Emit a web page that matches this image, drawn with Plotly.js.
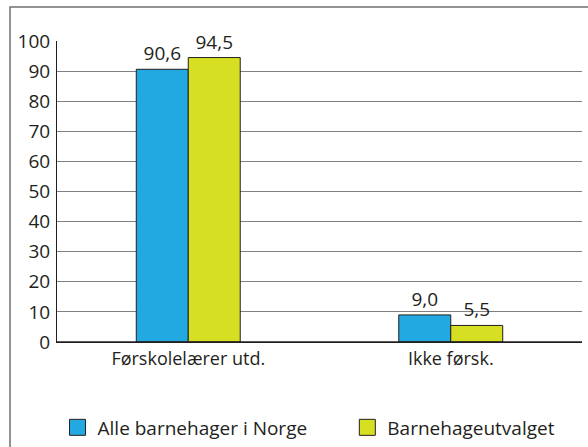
<!DOCTYPE html>
<html>
<head>
<meta charset="utf-8">
<script src="https://cdn.plot.ly/plotly-3.0.1.min.js"></script>
<style>html,body{margin:0;padding:0;background:#fff;}#chart{width:588px;height:447px;}</style>
</head>
<body>
<div id="chart"></div>
<script>
const categories = ["Førskolelærer utd.", "Ikke førsk."];
const seriesNames = ["Alle barnehager i Norge", "Barnehageutvalget"];
const seriesColors = ["#23a9e1", "#d7df23"];
const allNorway = [90.6, 9.0];
const sample = [94.5, 5.5];
const yTicks = [0, 10, 20, 30, 40, 50, 60, 70, 80, 90, 100];

const fam = "Open Sans, Noto Sans, sans-serif";
const ink = "#231f20";
const tickFont = {family: fam, size: 19, color: ink};
const catFont = {family: fam, size: 18, color: ink};
const labelFont = {family: fam, size: 19, color: ink};
const legendFont = {family: fam, size: 19, color: ink};

const seriesValues = [allNorway, sample];
const traces = [];
seriesValues.forEach((vals, i) => {
  traces.push({type: "bar", name: seriesNames[i], x: categories, y: vals,
    marker: {color: seriesColors[i], line: {color: ink, width: 1}},
    texttemplate: "%{y:.1f}", textposition: "outside", cliponaxis: false,
    textfont: labelFont, showlegend: false});
});
// legend-only entries (square swatches)
seriesNames.forEach((n, i) => {
  traces.push({type: "scatter", mode: "markers", name: n, x: [null], y: [null],
    marker: {symbol: "square", size: 16, color: seriesColors[i], line: {color: ink, width: 1}},
    showlegend: true, legend: i === 0 ? "legend" : "legend2", hoverinfo: "skip"});
});

const legendBase = {orientation: "h", yanchor: "middle", y: -0.284, xanchor: "left",
  font: legendFont, itemsizing: "trace", bgcolor: "rgba(0,0,0,0)"};

const layout = {
  width: 588, height: 447,
  margin: {l: 57, r: 6, t: 41, b: 105, autoexpand: false},
  paper_bgcolor: "#fff", plot_bgcolor: "#fff",
  font: tickFont,
  separators: ", ",
  barmode: "group", bargap: 0.604, bargroupgap: 0,
  showlegend: true,
  legend: Object.assign({}, legendBase, {x: 0.001}),
  legend2: Object.assign({}, legendBase, {x: 0.553}),
  xaxis: {showline: true, linecolor: ink, linewidth: 1, ticks: "", showgrid: false,
          tickfont: catFont, ticklabelstandoff: 0, fixedrange: true, automargin: false},
  yaxis: {range: [0, 100], tickvals: yTicks, showline: true, linecolor: ink, linewidth: 1,
          showgrid: true, gridcolor: "#808080", gridwidth: 1, zeroline: false, ticks: "",
          tickfont: tickFont, ticklabelstandoff: 2, fixedrange: true, automargin: false},
  shapes: [
    {type: "rect", xref: "paper", yref: "paper", x0: -0.0895, x1: 1.2, y0: -0.6, y1: 1.113,
     line: {color: "#707070", width: 1.5}, fillcolor: "rgba(0,0,0,0)", layer: "below"},
    {type: "line", xref: "paper", yref: "paper", x0: 0, x1: 1, y0: 0, y1: 0,
     line: {color: ink, width: 1.5}}
  ]
};

Plotly.newPlot("chart", traces, layout, {displayModeBar: false, staticPlot: true});
</script>
</body>
</html>
